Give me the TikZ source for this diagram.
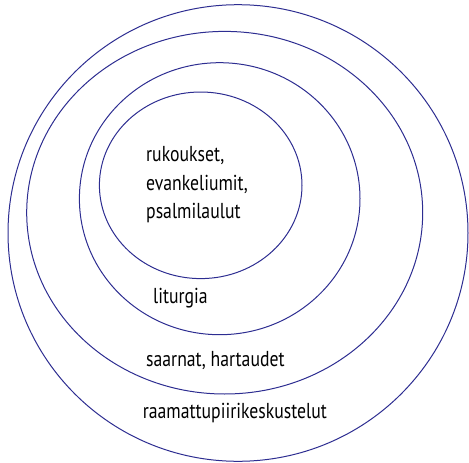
\documentclass[tikz,border=0pt]{standalone}
\usepackage{fontspec}
\setmainfont[FakeStretch=0.82]{PT Sans}
\definecolor{ring}{RGB}{45,45,145}
\begin{document}
\begin{tikzpicture}[x=1pt,y=-1pt,
  ringline/.style={draw=ring,line width=1pt},
  lbl/.style={anchor=base west,inner sep=0pt,font=\fontsize{21.6}{26}\selectfont}]
\useasboundingbox (0,0) rectangle (469,463);
\draw[ringline] (238,233) ellipse [x radius=230,y radius=228.3];
\draw[ringline] (224.7,212.7) ellipse [x radius=198,y radius=181.3];
\draw[ringline] (219.7,198.7) ellipse [x radius=140.3,y radius=136];
\draw[ringline] (200.7,185.3) ellipse [x radius=101.3,y radius=93.3];
\node[lbl] (r1) at (146,161.7) {rukoukset,};
\node[lbl] (r2) at (146,190) {evankeliumit,};
\node[lbl] (r3) at (146,218) {psalmilaulut};
\node[lbl] (lit) at (153,303) {liturgia};
\node[lbl] (saa) at (146,366.7) {saarnat, hartaudet};
\node[lbl] (raa) at (142.7,418) {raamattupiirikeskustelut};
\end{tikzpicture}
\end{document}
